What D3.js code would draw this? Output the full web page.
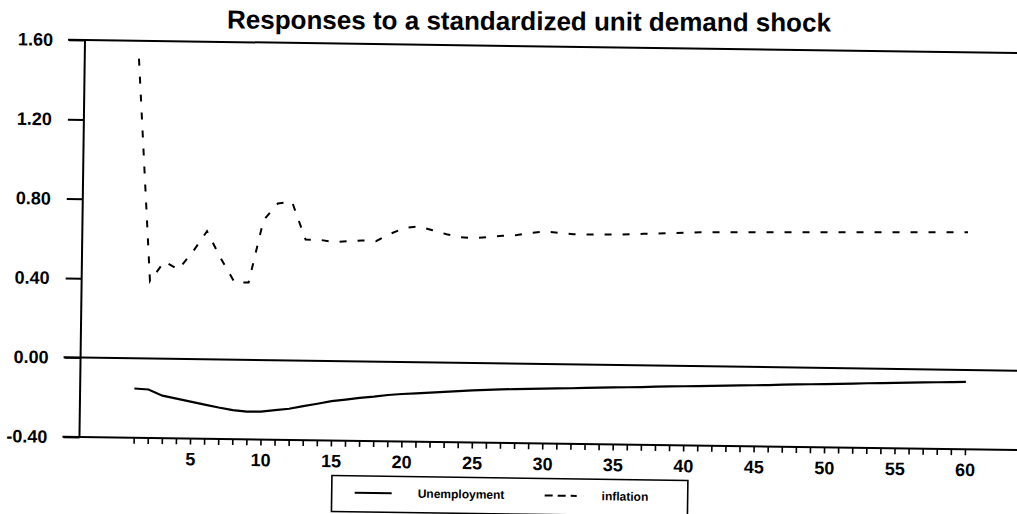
<!DOCTYPE html>
<html>
<head>
<meta charset="utf-8">
<script src="https://cdn.jsdelivr.net/npm/d3@7/dist/d3.min.js"></script>
<style>
  body { margin: 0; background: #fff; }
  text { font-family: "Liberation Sans", Arial, sans-serif; fill: #000; }
</style>
</head>
<body>
<div id="chart"></div>
<script>
// horizon 1..60
var periods = d3.range(1, 61);

var unemployment = [
  -0.152, -0.156, -0.186, -0.200, -0.214, -0.228, -0.242, -0.254, -0.261, -0.260,
  -0.251, -0.243, -0.229, -0.216, -0.202, -0.193, -0.183, -0.176, -0.167, -0.161,
  -0.157, -0.152, -0.147, -0.142, -0.138, -0.134, -0.131, -0.128, -0.126, -0.124,
  -0.122, -0.120, -0.117, -0.115, -0.113, -0.111, -0.109, -0.106, -0.104, -0.102,
  -0.100, -0.098, -0.096, -0.094, -0.092, -0.090, -0.087, -0.085, -0.083, -0.081,
  -0.079, -0.077, -0.074, -0.072, -0.070, -0.068, -0.066, -0.064, -0.062, -0.060
];

var inflation = [
  1.51, 0.39, 0.49, 0.45, 0.54, 0.645, 0.51, 0.39, 0.39, 0.705,
  0.79, 0.80, 0.61, 0.61, 0.60, 0.605, 0.61, 0.607, 0.645, 0.675,
  0.685, 0.666, 0.647, 0.633, 0.630, 0.636, 0.643, 0.648, 0.660, 0.668,
  0.662, 0.656, 0.655, 0.656, 0.657, 0.660, 0.663, 0.666, 0.669, 0.672,
  0.675, 0.676, 0.677, 0.678, 0.679, 0.680, 0.681, 0.682, 0.683, 0.684,
  0.685, 0.686, 0.687, 0.688, 0.689, 0.690, 0.691, 0.692, 0.693, 0.694
];

var yTicks = [-0.40, 0.00, 0.40, 0.80, 1.20, 1.60];
var xTicks = [5, 10, 15, 20, 25, 30, 35, 40, 45, 50, 55, 60];
var titleText = "Responses to a standardized unit demand shock";
var seriesNames = ["Unemployment", "inflation"];

var width = 1017, height = 514;
var plotLeft = 85, plotTop = 40, plotBottom = 437, plotRight = 1030;

// set the ranges
var x = d3.scaleLinear().domain([5, 60]).range([195.6, 970.6]);
var y = d3.scaleLinear().domain([-0.4, 1.6]).range([plotBottom, plotTop]);

var svg = d3.select("#chart").append("svg")
    .attr("width", width)
    .attr("height", height)
    .style("background", "#fff");

// title sits almost level on the scan
svg.append("text")
    .attr("x", 227)
    .attr("y", 28.5)
    .attr("transform", "rotate(0.3,227,28.5)")
    .style("font-size", "26px")
    .style("font-weight", "bold")
    .text(titleText);

// the scanned page is a little crooked, so tilt the plot
var g = svg.append("g")
    .attr("transform", "rotate(0.8," + plotLeft + "," + plotTop + ")");

// Y axis with long ticks to the left
var yAxis = g.append("g")
    .attr("transform", "translate(" + plotLeft + ",0)")
    .call(d3.axisLeft(y).tickValues(yTicks).tickSize(16).tickPadding(16)
      .tickFormat(function(d) { return d.toFixed(2); }));
yAxis.select(".domain").remove();
yAxis.selectAll("line").attr("stroke", "#000").attr("stroke-width", 2);
yAxis.selectAll("text")
    .style("font-size", "18px")
    .style("font-weight", "bold");

g.append("line")
    .attr("x1", plotLeft).attr("x2", plotLeft)
    .attr("y1", y(1.6)).attr("y2", y(-0.4))
    .attr("stroke", "#000").attr("stroke-width", 2);

// horizontal rules at top, zero and bottom
[1.6, 0, -0.4].forEach(function(v) {
  g.append("line")
      .attr("x1", plotLeft - 17).attr("x2", plotRight)
      .attr("y1", y(v)).attr("y2", y(v))
      .attr("stroke", "#000").attr("stroke-width", 2);
});

// X axis: small tick at every period, labels every 5
var xMinor = g.append("g")
    .attr("transform", "translate(0," + plotBottom + ")")
    .call(d3.axisBottom(x).tickValues(periods).tickSize(6).tickFormat(""));
xMinor.select(".domain").remove();
xMinor.selectAll("line").attr("stroke", "#000").attr("stroke-width", 1.6);

var xAxis = g.append("g")
    .attr("transform", "translate(0," + plotBottom + ")")
    .call(d3.axisBottom(x).tickValues(xTicks).tickSize(0).tickPadding(14));
xAxis.select(".domain").remove();
xAxis.selectAll("text")
    .style("font-size", "18px")
    .style("font-weight", "bold");

// lines
var line = d3.line()
    .x(function(d) { return x(d[0]); })
    .y(function(d) { return y(d[1]); });

g.append("path")
    .datum(d3.zip(periods, unemployment))
    .attr("fill", "none")
    .attr("stroke", "#000")
    .attr("stroke-width", 2.2)
    .attr("d", line);

g.append("path")
    .datum(d3.zip(periods, inflation))
    .attr("fill", "none")
    .attr("stroke", "#000")
    .attr("stroke-width", 2)
    .attr("stroke-dasharray", "7,11")
    .attr("d", line);

// legend
var lg = g.append("g").attr("transform", "translate(338,472)");
lg.append("rect")
    .attr("width", 356).attr("height", 36)
    .attr("fill", "#fff").attr("stroke", "#000").attr("stroke-width", 1.6);
lg.append("line")
    .attr("x1", 23).attr("x2", 60).attr("y1", 17).attr("y2", 17)
    .attr("stroke", "#000").attr("stroke-width", 2);
lg.append("text").attr("x", 86).attr("y", 21)
    .style("font-size", "12px").style("font-weight", "bold")
    .text(seriesNames[0]);
lg.append("line")
    .attr("x1", 213).attr("x2", 245).attr("y1", 17).attr("y2", 17)
    .attr("stroke", "#000").attr("stroke-width", 2)
    .attr("stroke-dasharray", "8,5");
lg.append("text").attr("x", 270).attr("y", 21)
    .style("font-size", "12px").style("font-weight", "bold")
    .text(seriesNames[1]);
</script>
</body>
</html>
